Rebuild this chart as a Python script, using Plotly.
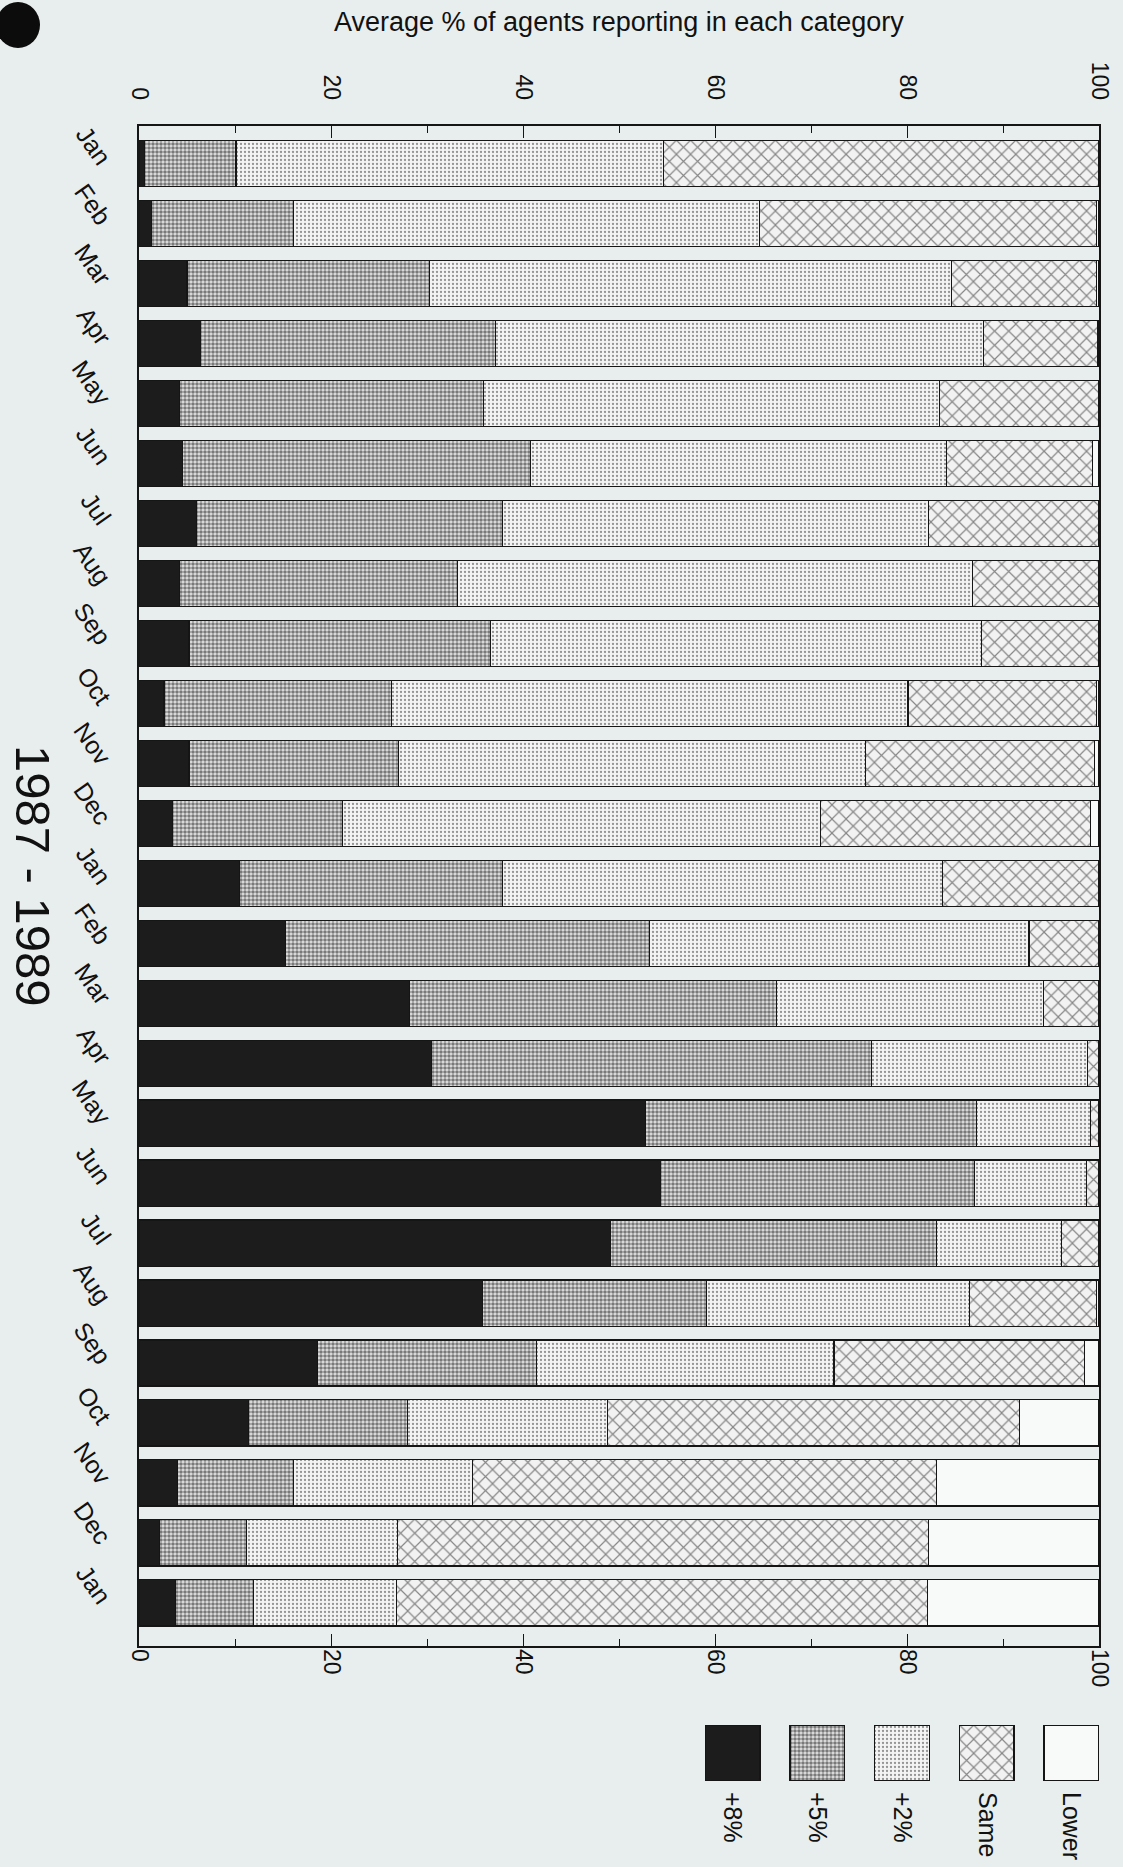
import plotly.graph_objects as go

# ---------------- data ----------------
months = ["Jan", "Feb", "Mar", "Apr", "May", "Jun", "Jul", "Aug", "Sep", "Oct", "Nov", "Dec",
          "Jan", "Feb", "Mar", "Apr", "May", "Jun", "Jul", "Aug", "Sep", "Oct", "Nov", "Dec",
          "Jan"]
series = ["+8%", "+5%", "+2%", "Same", "Lower"]

plus8 = [0.6, 1.3, 5.0, 6.4, 4.2, 4.5, 6.0, 4.2, 5.2, 2.6, 5.2, 3.5,
         10.5, 15.3, 28.2, 30.5, 52.8, 54.3, 49.1, 35.8, 18.6, 11.4, 4.0, 2.1, 3.8]
plus5 = [9.5, 14.8, 25.3, 30.7, 31.7, 36.3, 31.9, 29.0, 31.4, 23.7, 21.8, 17.7,
         27.4, 37.9, 38.2, 45.8, 34.4, 32.7, 34.0, 23.3, 22.8, 16.6, 12.1, 9.1, 8.1]
plus2 = [44.5, 48.5, 54.3, 50.9, 47.5, 43.3, 44.3, 53.6, 51.2, 53.8, 48.7, 49.8,
         45.8, 39.5, 27.8, 22.5, 11.9, 11.7, 13.0, 27.4, 31.0, 20.8, 18.6, 15.7, 14.9]
same = [45.4, 35.1, 15.1, 11.9, 16.6, 15.2, 17.8, 13.2, 12.2, 19.6, 23.8, 28.1,
        16.3, 7.3, 5.8, 1.2, 0.9, 1.3, 3.9, 13.2, 26.1, 42.9, 48.4, 55.3, 55.3]
lower = [0.0, 0.3, 0.3, 0.1, 0.0, 0.7, 0.0, 0.0, 0.0, 0.3, 0.5, 0.9,
         0.0, 0.0, 0.0, 0.0, 0.0, 0.0, 0.0, 0.3, 1.5, 8.3, 16.9, 17.8, 17.9]
values = [plus8, plus5, plus2, same, lower]

x_ticks = [0, 20, 40, 60, 80, 100]
title_text = "1987 - 1989"
axis_title = "Average % of agents reporting in each category"

# ---------------- styling ----------------
W, H = 1123, 1867
ML, MR, MT, MB = 139, 24, 126, 40
PH = H - MT - MB
BG = "#e8eeee"
EDGE = "#151515"
FONT = "Liberation Sans, Arial, Helvetica, sans-serif"

styles = [
    dict(color="#1c1c1c", pattern=dict(shape="")),
    dict(color="#e4e4e4", pattern=dict(shape=".", fgcolor="#0d0d0d", bgcolor="#e4e4e4",
                                       size=4, solidity=0.62, fillmode="overlay")),
    dict(color="#f4f4f4", pattern=dict(shape=".", fgcolor="#333333", bgcolor="#f4f4f4",
                                       size=4, solidity=0.26, fillmode="overlay")),
    dict(color="#f2f2f2", pattern=dict(shape="x", fgcolor="#1a1a1a", bgcolor="#f2f2f2",
                                       size=10, solidity=0.22, fillmode="overlay")),
    dict(color="#f8fafa", pattern=dict(shape="")),
]

def px_to_py(py):
    return (H - MB - py) / PH

def px_to_px(px):
    return (px - ML) / (W - ML - MR)

positions = list(range(len(months)))

fig = go.Figure()
for name, vals, st in zip(series, values, styles):
    fig.add_trace(go.Bar(
        x=vals, y=positions, orientation="h", name=name, width=0.77,
        marker=dict(color=st["color"], pattern=st["pattern"],
                    line=dict(color=EDGE, width=1.2)),
        xaxis="x", yaxis="y", showlegend=False,
    ))

# invisible trace to activate bottom axis
fig.add_trace(go.Scatter(x=[0, 100], y=[0, 0], mode="none", xaxis="x2", yaxis="y",
                         showlegend=False, hoverinfo="skip"))

# custom rotated legend as a small bar subplot
for i, (name, st) in enumerate(zip(series, styles)):
    fig.add_trace(go.Bar(
        x=[i], y=[1], width=0.647, name=name,
        marker=dict(color=st["color"], pattern=st["pattern"],
                    line=dict(color=EDGE, width=1.5)),
        xaxis="x3", yaxis="y3", showlegend=False,
    ))

y_dom0 = px_to_py(1646)
common_x = dict(
    range=[0, 100], tickvals=x_ticks, tickangle=90,
    ticks="inside", ticklen=12, tickwidth=1.2, tickcolor=EDGE,
    minor=dict(dtick=10, ticks="inside", ticklen=7, tickwidth=1.2, tickcolor=EDGE),
    showgrid=False, zeroline=False, automargin=False,
    tickfont=dict(family=FONT, size=23, color="#111"),
)

fig.update_layout(
    width=W, height=H,
    margin=dict(l=ML, r=MR, t=MT, b=MB, autoexpand=False),
    paper_bgcolor=BG, plot_bgcolor=BG,
    barmode="stack", bargap=0.23,
    font=dict(family=FONT, color="#111"),
    xaxis=dict(domain=[0, 1], side="top", anchor="y", showline=True, mirror=True,
               linecolor=EDGE, linewidth=1.6, ticklabelstandoff=16, **common_x),
    xaxis2=dict(overlaying="x", side="bottom", anchor="y", matches="x",
                showline=False, ticklabelstandoff=2, **common_x),
    yaxis=dict(domain=[y_dom0, 1], range=[len(months) - 1 + 0.72, -0.63],
               tickvals=positions, ticktext=months, tickangle=55, ticks="",
               showline=True, mirror=True, linecolor=EDGE, linewidth=1.6,
               showgrid=False, zeroline=False, ticklabelstandoff=24, automargin=False,
               tickfont=dict(family=FONT, size=25, color="#111")),
    xaxis3=dict(domain=[px_to_px(705), 1.0], anchor="y3", range=[-0.3235, 4.3235],
                tickvals=list(range(len(series))), ticktext=series, tickangle=90,
                ticks="", showline=False, showgrid=False, zeroline=False,
                ticklabelstandoff=10, automargin=False,
                tickfont=dict(family=FONT, size=25, color="#111")),
    yaxis3=dict(domain=[px_to_py(1781), px_to_py(1725)], anchor="x3", range=[0, 1],
                visible=False, automargin=False),
    annotations=[
        dict(text=axis_title, xref="paper", yref="paper", x=0.5, y=px_to_py(22),
             xanchor="center", yanchor="middle", showarrow=False,
             font=dict(family=FONT, size=27, color="#111")),
        dict(text=title_text, xref="paper", yref="paper", x=px_to_px(33), y=px_to_py(876),
             xanchor="center", yanchor="middle", showarrow=False, textangle=90,
             font=dict(family=FONT, size=49, color="#111")),
    ],
    shapes=[
        dict(type="circle", xref="paper", yref="paper",
             x0=px_to_px(-4), x1=px_to_px(40), y0=px_to_py(48), y1=px_to_py(2),
             fillcolor="#0c0c0c", line=dict(width=0)),
    ],
)

fig.write_html("out.html", config={"displayModeBar": False},
               post_script="document.body.style.margin='0';")
